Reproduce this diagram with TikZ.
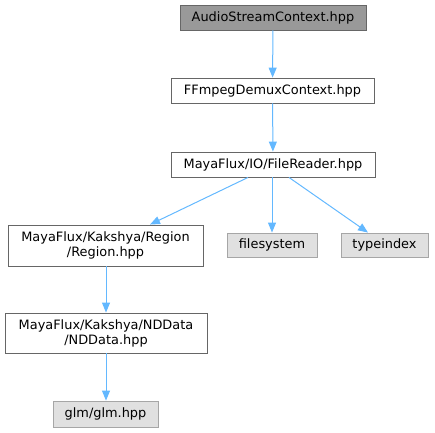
\documentclass[tikz,border=0pt]{standalone}
\usepackage{fontspec}
\setmainfont{DejaVu Sans}
\usetikzlibrary{arrows.meta}
\begin{document}
\begin{tikzpicture}[x=1pt,y=-1pt,
  box/.style={draw=black!60, fill=white, line width=0.9pt, inner sep=0pt, font=\fontsize{12.9}{15}\selectfont, align=center},
  topbox/.style={box, fill=black!40},
  sysbox/.style={box, draw=black!35, fill=black!12},
  edge/.style={draw={rgb,255:red,99;green,184;blue,255}, line width=1pt, -{Triangle[length=10pt,width=8pt]}}]
\useasboundingbox (0,0) rectangle (435,432);
\node[topbox, minimum width=186pt, minimum height=25pt] (asc) at (273,17.5) {AudioStreamContext.hpp};
\node[box, minimum width=203pt, minimum height=25pt] (ffm) at (272.5,90.5) {FFmpegDemuxContext.hpp};
\node[box, minimum width=204pt, minimum height=25pt] (fr) at (273,164.5) {MayaFlux/IO/FileReader.hpp};
\node[box, minimum width=195pt, minimum height=41pt] (reg) at (105.5,245.5) {MayaFlux/Kakshya/Region\\/Region.hpp};
\node[sysbox, minimum width=90pt, minimum height=24pt] (fs) at (272,245) {filesystem};
\node[sysbox, minimum width=87pt, minimum height=24pt] (ti) at (384.5,245) {typeindex};
\node[box, minimum width=202pt, minimum height=40pt] (nd) at (106,333) {MayaFlux/Kakshya/NDData\\/NDData.hpp};
\node[sysbox, minimum width=105pt, minimum height=26pt] (glm) at (105.5,414) {glm/glm.hpp};
\draw[edge] (asc) -- (ffm);
\draw[edge] (ffm) -- (fr);
\draw[edge] (fr.south -| 248,0) -- (reg.north -| 150,0);
\draw[edge] (fr.south -| 272,0) -- (fs);
\draw[edge] (fr.south -| 289,0) -- (ti.north -| 368,0);
\draw[edge] (reg.south -| 106,0) -- (nd.north -| 106,0);
\draw[edge] (nd.south -| 106,0) -- (glm.north -| 106,0);
\end{tikzpicture}
\end{document}
